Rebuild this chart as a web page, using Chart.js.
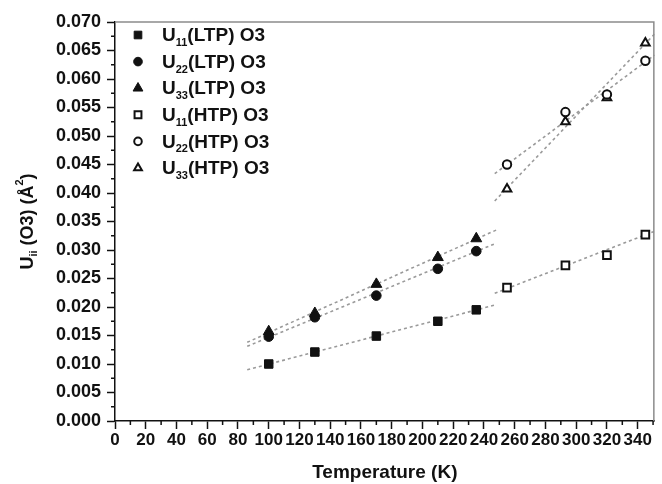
<!DOCTYPE html>
<html>
<head>
<meta charset="utf-8">
<script src="https://cdn.jsdelivr.net/npm/chart.js@4/dist/chart.umd.min.js"></script>
<style>
  html, body { margin: 0; padding: 0; background: #fff; }
  #wrap { width: 662px; height: 484px; }
</style>
</head>
<body>
<div id="wrap"><canvas id="chart" width="662" height="484"></canvas></div>
<script>
// DATA
const tempLTP = [100, 130, 170, 210, 235];
const tempHTP = [255, 293, 320, 345];

const u11LTP = [0.0100, 0.0121, 0.0149, 0.0175, 0.0195];
const u22LTP = [0.0148, 0.0182, 0.0220, 0.0267, 0.0298];
const u33LTP = [0.0157, 0.0189, 0.0240, 0.0287, 0.0320];
const u11HTP = [0.0234, 0.0273, 0.0291, 0.0327];
const u22HTP = [0.0450, 0.0542, 0.0573, 0.0632];
const u33HTP = [0.0407, 0.0525, 0.0567, 0.0663];

// dashed fit lines, end points
const fitXLTP = [86, 248];
const fitU11LTP = [0.0090, 0.0204];
const fitU22LTP = [0.0131, 0.0312];
const fitU33LTP = [0.0138, 0.0335];
const fitXHTP = [247, 351];
const fitU11HTP = [0.0224, 0.0333];
const fitU22HTP = [0.0434, 0.0642];
const fitU33HTP = [0.0386, 0.0679];

const legendNames = ["U|11|(LTP) O3", "U|22|(LTP) O3", "U|33|(LTP) O3",
                     "U|11|(HTP) O3", "U|22|(HTP) O3", "U|33|(HTP) O3"];

const FONT = "'Liberation Sans', Arial, sans-serif";

function pts(xs, ys) {
  return xs.map((x, i) => ({ x: x, y: ys[i] }));
}

function markerSet(label, xs, ys, style, radius, filled) {
  return {
    type: "scatter",
    label: label,
    data: pts(xs, ys),
    pointStyle: style,
    pointRadius: radius,
    pointHoverRadius: radius,
    pointBackgroundColor: filled ? "#111" : "#fff",
    pointBorderColor: "#111",
    pointBorderWidth: filled ? 1 : 2,
    showLine: false,
    order: 0
  };
}

function fitSet(xs, ys) {
  return {
    type: "line",
    label: "",
    data: pts(xs, ys),
    borderColor: "#9a9a9a",
    borderWidth: 1.6,
    borderDash: [3, 3],
    pointRadius: 0,
    fill: false,
    order: 1
  };
}

const markers = [
  markerSet(legendNames[0], tempLTP, u11LTP, "rect", 6, true),
  markerSet(legendNames[1], tempLTP, u22LTP, "circle", 4.8, true),
  markerSet(legendNames[2], tempLTP, u33LTP, "triangle", 6.3, true),
  markerSet(legendNames[3], tempHTP, u11HTP, "rect", 5.4, false),
  markerSet(legendNames[4], tempHTP, u22HTP, "circle", 4.2, false),
  markerSet(legendNames[5], tempHTP, u33HTP, "triangle", 5, false)
];

const fits = [
  fitSet(fitXLTP, fitU11LTP), fitSet(fitXLTP, fitU22LTP), fitSet(fitXLTP, fitU33LTP),
  fitSet(fitXHTP, fitU11HTP), fitSet(fitXHTP, fitU22HTP), fitSet(fitXHTP, fitU33HTP)
];

// draws a label like "U|11|(LTP) O3" with a subscript part
function drawRich(ctx, parts, x, y) {
  let cx = x;
  parts.forEach(p => {
    ctx.font = "bold " + p.size + "px " + FONT;
    ctx.fillText(p.text, cx, y + (p.dy || 0));
    cx += ctx.measureText(p.text).width;
  });
  return cx - x;
}

function measureRich(ctx, parts) {
  let w = 0;
  parts.forEach(p => {
    ctx.font = "bold " + p.size + "px " + FONT;
    w += ctx.measureText(p.text).width;
  });
  return w;
}

const extras = {
  id: "extras",
  afterDraw(chart) {
    const ctx = chart.ctx;
    const area = chart.chartArea;
    const xs = chart.scales.x;
    const ys = chart.scales.y;
    ctx.save();

    // top and right frame
    ctx.strokeStyle = "#8c8c8c";
    ctx.lineWidth = 1.5;
    ctx.beginPath();
    ctx.moveTo(area.left, area.top);
    ctx.lineTo(area.right - 0.75, area.top);
    ctx.lineTo(area.right - 0.75, area.bottom);
    ctx.stroke();

    // minor ticks
    ctx.strokeStyle = "#111";
    ctx.lineWidth = 1.5;
    ctx.beginPath();
    for (let v = 10; v < xs.max; v += 20) {
      const px = xs.getPixelForValue(v);
      ctx.moveTo(px, area.bottom);
      ctx.lineTo(px, area.bottom + 4);
    }
    for (let v = 0.0025; v < ys.max; v += 0.005) {
      const py = ys.getPixelForValue(v);
      ctx.moveTo(area.left, py);
      ctx.lineTo(area.left - 4, py);
    }
    ctx.stroke();

    // legend
    ctx.textBaseline = "middle";
    ctx.textAlign = "left";
    markers.forEach((ds, i) => {
      const my = area.top + 13 + i * 26.6;
      const mx = area.left + 23;
      ctx.fillStyle = ds.pointBackgroundColor;
      ctx.strokeStyle = ds.pointBorderColor;
      ctx.lineWidth = ds.pointBorderWidth;
      Chart.helpers.drawPoint(ctx, {
        pointStyle: ds.pointStyle, radius: ds.pointRadius * 0.9,
        rotation: 0, borderWidth: ds.pointBorderWidth
      }, mx, my);
      const bits = ds.label.split("|");
      ctx.fillStyle = "#111";
      drawRich(ctx, [
        { text: bits[0], size: 19 },
        { text: bits[1], size: 11, dy: 7 },
        { text: bits[2], size: 19 }
      ], area.left + 47, my + 1);
    });

    // y axis title
    const yParts = [
      { text: "U", size: 18 },
      { text: "ii", size: 11, dy: 6 },
      { text: " (O3) (Å", size: 18 },
      { text: "2", size: 11, dy: -8 },
      { text: ")", size: 18 }
    ];
    ctx.translate(28, (area.top + area.bottom) / 2);
    ctx.rotate(-Math.PI / 2);
    const w = measureRich(ctx, yParts);
    ctx.fillStyle = "#111";
    drawRich(ctx, yParts, -w / 2, 0);

    ctx.restore();
  }
};

new Chart(document.getElementById("chart"), {
  type: "scatter",
  data: { datasets: markers.concat(fits) },
  options: {
    responsive: false,
    animation: false,
    layout: { padding: { top: 22, right: 0, bottom: 0, left: 0 } },
    plugins: {
      legend: { display: false },
      tooltip: { enabled: false }
    },
    scales: {
      x: {
        type: "linear",
        min: 0,
        max: 351,
        afterFit(s) { s.height = 63; },
        border: { display: true, color: "#111", width: 1.5 },
        grid: { drawOnChartArea: false, drawTicks: true, tickLength: 8, tickColor: "#111", tickWidth: 1.5 },
        ticks: {
          stepSize: 20,
          includeBounds: false,
          autoSkip: false,
          maxRotation: 0,
          padding: 1,
          color: "#111",
          font: { family: FONT, size: 17, weight: "bold" }
        },
        title: {
          display: true,
          text: "Temperature (K)",
          color: "#111",
          font: { family: FONT, size: 19, weight: "bold" },
          padding: { top: 4, bottom: 0 }
        }
      },
      y: {
        type: "linear",
        min: 0,
        max: 0.07,
        afterFit(s) { s.width = 115; },
        border: { display: true, color: "#111", width: 1.5 },
        grid: { drawOnChartArea: false, drawTicks: true, tickLength: 8, tickColor: "#111", tickWidth: 1.5 },
        ticks: {
          stepSize: 0.005,
          autoSkip: false,
          padding: 6,
          color: "#111",
          font: { family: FONT, size: 18, weight: "bold" },
          callback: v => v.toFixed(3)
        }
      }
    }
  },
  plugins: [extras]
});
</script>
</body>
</html>
